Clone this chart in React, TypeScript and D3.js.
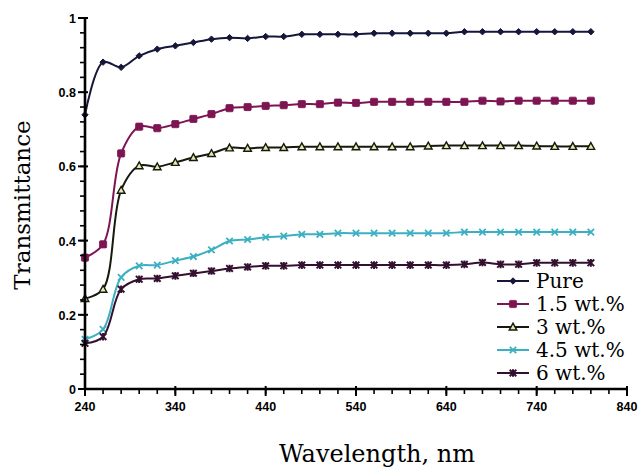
import React from "react";
import * as d3 from "d3";

const wavelengths = [240,260,280,300,320,340,360,380,400,420,440,460,480,500,520,540,560,580,600,620,640,660,680,700,720,740,760,780,800];
const pure = [0.739,0.881,0.867,0.898,0.916,0.925,0.934,0.943,0.947,0.945,0.950,0.950,0.956,0.956,0.956,0.956,0.959,0.959,0.959,0.959,0.959,0.963,0.963,0.963,0.963,0.963,0.963,0.963,0.963];
const wt15 = [0.354,0.390,0.635,0.707,0.703,0.714,0.728,0.741,0.757,0.760,0.763,0.765,0.768,0.768,0.772,0.771,0.774,0.774,0.774,0.774,0.774,0.774,0.777,0.775,0.777,0.777,0.777,0.777,0.777];
const wt3 = [0.244,0.269,0.536,0.602,0.599,0.611,0.624,0.635,0.650,0.649,0.651,0.651,0.653,0.653,0.653,0.653,0.653,0.653,0.653,0.655,0.656,0.656,0.656,0.656,0.656,0.655,0.654,0.654,0.654];
const wt45 = [0.134,0.161,0.301,0.332,0.334,0.346,0.357,0.375,0.399,0.403,0.409,0.412,0.417,0.417,0.420,0.420,0.420,0.420,0.420,0.420,0.420,0.423,0.423,0.423,0.423,0.423,0.423,0.423,0.423];
const wt6 = [0.123,0.141,0.269,0.296,0.298,0.305,0.312,0.318,0.325,0.329,0.332,0.332,0.334,0.334,0.334,0.334,0.334,0.334,0.334,0.334,0.334,0.336,0.341,0.336,0.336,0.340,0.340,0.340,0.340];

const seriesNames = ["Pure", "1.5 wt.%", "3 wt.%", "4.5 wt.%", "6 wt.%"];
const seriesValues = [pure, wt15, wt3, wt45, wt6];
const seriesColors = ["#15163a", "#7d1553", "#141a0c", "#3cb0c2", "#33102e"];
const seriesMarkers = ["diamond", "square", "triangle", "x", "star"];

const xMajorTicks = [240, 340, 440, 540, 640, 740, 840];
const yMajorTicks = [0, 0.2, 0.4, 0.6, 0.8, 1];
const yTickLabels = ["0", "0.2", "0.4", "0.6", "0.8", "1"];

function Marker({ type, x, y, color }: { type: string; x: number; y: number; color: string }) {
  if (type === "diamond") {
    const s = 3.2;
    return <path d={`M${x},${y - s}L${x + s},${y}L${x},${y + s}L${x - s},${y}Z`} fill={color} stroke={color} strokeWidth={1} />;
  }
  if (type === "square") {
    return <rect x={x - 3.6} y={y - 3.6} width={7.2} height={7.2} rx={1} fill={color} stroke={color} strokeWidth={0.8} />;
  }
  if (type === "triangle") {
    const s = 3.8;
    return <path d={`M${x},${y - s}L${x + s},${y + s * 0.8}L${x - s},${y + s * 0.8}Z`} fill="#e8e8b0" stroke={color} strokeWidth={1.4} />;
  }
  if (type === "x") {
    const s = 3.2;
    return <path d={`M${x - s},${y - s}L${x + s},${y + s}M${x - s},${y + s}L${x + s},${y - s}`} stroke={color} strokeWidth={1.8} fill="none" />;
  }
  const s = 3.3;
  return (
    <g>
      <path d={`M${x - s},${y - s}L${x + s},${y + s}M${x - s},${y + s}L${x + s},${y - s}M${x},${y - s - 0.5}L${x},${y + s + 0.5}`} stroke={color} strokeWidth={2} fill="none" />
    </g>
  );
}

export default function App() {
  const W = 640, H = 470;
  const x = d3.scaleLinear().domain([240, 840]).range([85, 627]);
  const y = d3.scaleLinear().domain([0, 1]).range([389, 18]);
  const line = d3
    .line<number>()
    .x((_, i) => x(wavelengths[i]))
    .y((d) => y(d))
    .curve(d3.curveCatmullRom.alpha(0.5));

  const xMinor = d3.range(240, 841, 20);
  const yMinor = d3.range(0, 1.0001, 0.04);

  const legendX0 = 497, legendX1 = 529, legendY0 = 281, legendDy = 23;

  return (
    <svg width={W} height={H} style={{ position: "absolute", left: 0, top: 0, background: "#fff" }}>
      <rect width={W} height={H} fill="#fff" />
      {/* series */}
      {seriesValues.map((vals, si) => (
        <g key={si}>
          <path d={line(vals) || ""} fill="none" stroke={seriesColors[si]} strokeWidth={2} />
          {vals.map((v, i) => (
            <Marker key={i} type={seriesMarkers[si]} x={x(wavelengths[i])} y={y(v)} color={seriesColors[si]} />
          ))}
        </g>
      ))}
      {/* axes */}
      <g stroke="#000" fill="none">
        <line x1={x(240)} x2={x(840)} y1={y(0)} y2={y(0)} strokeWidth={2.6} />
        <line x1={x(240)} x2={x(240)} y1={y(0) + 1} y2={y(1)} strokeWidth={2.6} />
        {xMinor.map((t) => (
          <line key={"xm" + t} x1={x(t)} x2={x(t)} y1={y(0)} y2={y(0) + 5} strokeWidth={1.6} />
        ))}
        {xMajorTicks.map((t) => (
          <line key={"xM" + t} x1={x(t)} x2={x(t)} y1={y(0) - 3} y2={y(0) + 7} strokeWidth={2} />
        ))}
        {yMinor.map((t) => (
          <line key={"ym" + t} x1={x(240) - 5} x2={x(240)} y1={y(t)} y2={y(t)} strokeWidth={1.6} />
        ))}
        {yMajorTicks.map((t) => (
          <line key={"yM" + t} x1={x(240) - 7} x2={x(240) + 3} y1={y(t)} y2={y(t)} strokeWidth={2} />
        ))}
      </g>
      <g fontFamily="'Liberation Sans', Arial, sans-serif" fontWeight="bold" fontSize={12.5} fill="#000">
        {xMajorTicks.map((t) => (
          <text key={"xl" + t} x={x(t)} y={y(0) + 22} textAnchor="middle">{t}</text>
        ))}
        {yMajorTicks.map((t, i) => (
          <text key={"yl" + t} x={x(240) - 9} y={y(t) + 5} textAnchor="end">{yTickLabels[i]}</text>
        ))}
      </g>
      {/* axis titles */}
      <text x={377} y={462} textAnchor="middle" fontFamily="'DejaVu Serif', serif" fontSize={24} fill="#000">Wavelength, nm</text>
      <text transform={`translate(30,205) rotate(-90)`} textAnchor="middle" fontFamily="'DejaVu Serif', serif" fontSize={23} fill="#000">Transmittance</text>
      {/* legend */}
      {seriesNames.map((name, si) => {
        const ly = legendY0 + si * legendDy;
        return (
          <g key={"lg" + si}>
            <line x1={legendX0} x2={legendX1} y1={ly} y2={ly} stroke={seriesColors[si]} strokeWidth={2} />
            <Marker type={seriesMarkers[si]} x={(legendX0 + legendX1) / 2} y={ly} color={seriesColors[si]} />
            <text x={legendX1 + 7} y={ly + 7} fontFamily="'DejaVu Serif', serif" fontSize={20} fill="#000">{name}</text>
          </g>
        );
      })}
    </svg>
  );
}
